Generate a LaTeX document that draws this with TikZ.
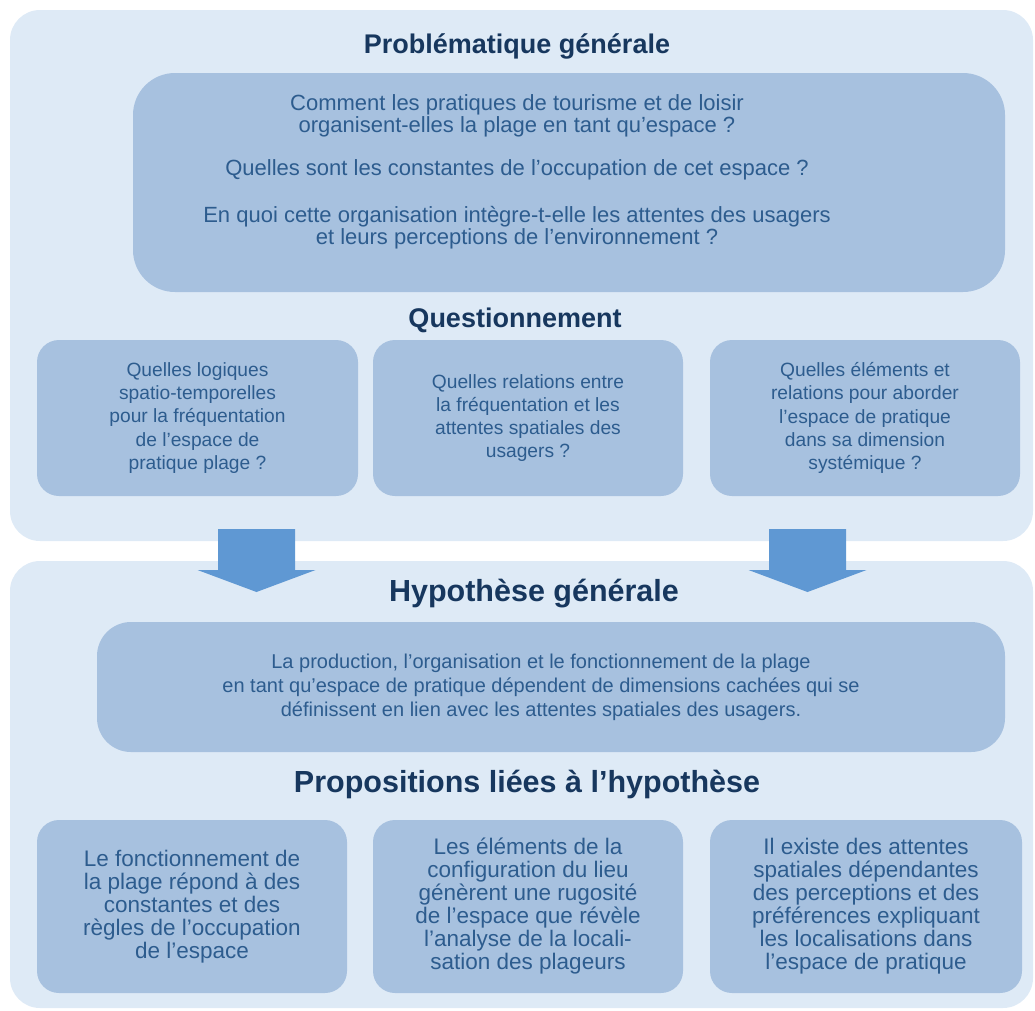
\documentclass[tikz,border=0pt]{standalone}
\usepackage{fontspec}
\setmainfont{Liberation Sans}
\usetikzlibrary{positioning}
\definecolor{panelblue}{HTML}{DEEAF6}
\definecolor{boxblue}{HTML}{A7C1DF}
\definecolor{arrowblue}{HTML}{5F98D3}
\definecolor{textblue}{HTML}{2D5C8E}
\definecolor{titleblue}{HTML}{17375E}
\tikzset{panel/.style = {fill=panelblue, rounded corners=30},
         box/.style = {fill=boxblue, rounded corners=22, inner sep=0, align=center,
                       text=textblue},
         boxtext/.style = {inner sep=0, align=center, text=textblue},
         title/.style = {text=titleblue, inner sep=0,
                         font=\fontsize{27}{27}\selectfont\bfseries},
         bigtitle/.style = {title, font=\fontsize{30.5}{30.5}\selectfont\bfseries},
         questfont/.style = {font=\fontsize{19.2}{23.3}\selectfont},
         propfont/.style = {font=\fontsize{22.5}{23}\selectfont}}

\begin{document}
\begin{tikzpicture}[x=1pt, y=-1pt]
    \useasboundingbox (0, 0) rectangle (1035, 1010);
    \fill [panel] (10, 10) rectangle (1033, 541);
    \fill [panel] (10, 561) rectangle (1033, 1008);

    % problematique
    \node [title] (probtitle) at (517, 46) {Problématique générale};
    \node [box, rounded corners=42, minimum width=872, minimum height=219] (prob)
      at (569, 182.5) {};
    \node [boxtext, font=\fontsize{22}{22}\selectfont] (probtext) at (517, 172)
      {Comment les pratiques de tourisme et de loisir\\
       organisent-elles la plage en tant qu’espace ?\\[21pt]
       Quelles sont les constantes de l’occupation de cet espace ?\\[25pt]
       En quoi cette organisation intègre-t-elle les attentes des usagers\\
       et leurs perceptions de l’environnement ?};

    % questionnement
    \node [title] (questtitle) at (515, 320) {Questionnement};
    \node [box, questfont, minimum width=321, minimum height=156] (quest1) at (197.5, 418)
      {Quelles logiques\\spatio-temporelles\\pour la fréquentation\\de l’espace de\\pratique plage ?};
    \node [box, questfont, minimum width=310, minimum height=156] (quest2) at (528, 418)
      {Quelles relations entre\\la fréquentation et les\\attentes spatiales des\\usagers ?};
    \node [box, questfont, minimum width=310, minimum height=156] (quest3) at (865, 418)
      {Quelles éléments et\\relations pour aborder\\l’espace de pratique\\dans sa dimension\\systémique ?};

    \foreach \x in {256.5, 807.5} {
      \fill [arrowblue] (\x - 38.5, 529) -- (\x + 38.5, 529) -- (\x + 38.5, 570)
        -- (\x + 59, 570) -- (\x, 592) -- (\x - 59, 570) -- (\x - 38.5, 570) -- cycle;
    }

    % hypothese
    \node [bigtitle] (hyptitle) at (534, 594) {Hypothèse générale};
    \node [box, rounded corners=34, minimum width=908, minimum height=130] (hyp)
      at (551, 687) {};
    \node [boxtext, font=\fontsize{20}{24}\selectfont] (hyptext) at (541, 687)
      {La production, l’organisation et le fonctionnement de la plage\\
       en tant qu’espace de pratique dépendent de dimensions cachées qui se\\
       définissent en lien avec les attentes spatiales des usagers.};

    % propositions
    \node [bigtitle] (proptitle) at (527, 784) {Propositions liées à l’hypothèse};
    \node [box, propfont, minimum width=310, minimum height=173] (prop1) at (192, 906.5)
      {Le fonctionnement de\\la plage répond à des\\constantes et des\\règles de l’occupation\\de l’espace};
    \node [box, propfont, minimum width=310, minimum height=173] (prop2) at (528, 906.5)
      {Les éléments de la\\configuration du lieu\\génèrent une rugosité\\de l’espace que révèle\\l’analyse de la locali-\\sation des plageurs};
    \node [box, propfont, minimum width=312, minimum height=173] (prop3) at (866, 906.5)
      {Il existe des attentes\\spatiales dépendantes\\des perceptions et des\\préférences expliquant\\les localisations dans\\l’espace de pratique};
\end{tikzpicture}
\end{document}
